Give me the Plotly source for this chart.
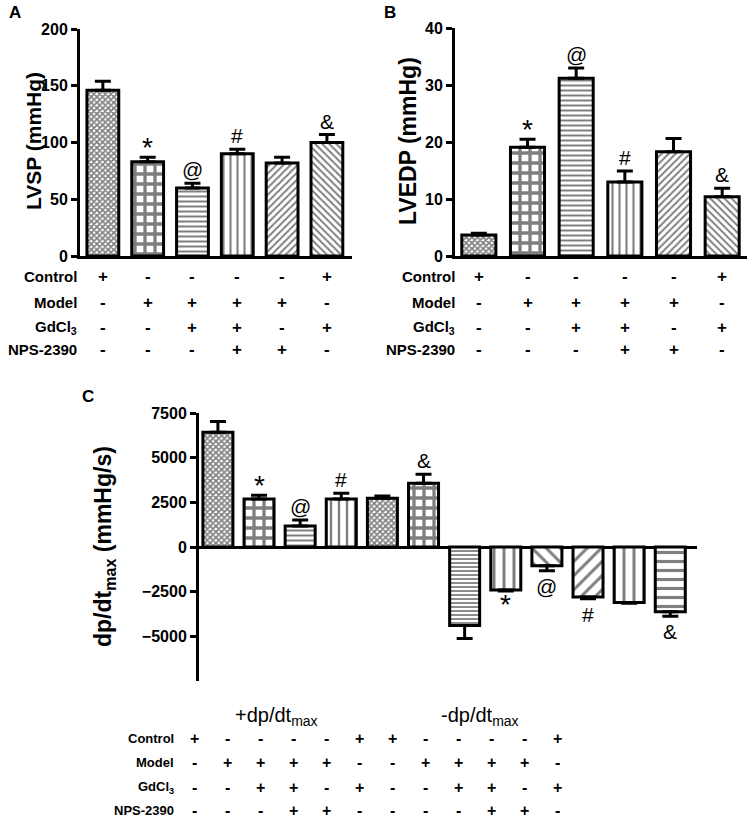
import plotly.graph_objects as go

# ---------------- data ----------------
groups = ["Control", "Model", "Model+GdCl3", "Model+GdCl3+NPS-2390", "Model+NPS-2390", "Control+GdCl3"]

lvsp_mean = [146, 83, 60, 90, 82, 100]
lvsp_sem = [8, 4, 4, 4, 5, 7]
lvsp_sig = ["", "*", "@", "#", "", "&"]

lvedp_mean = [3.7, 19.1, 31.2, 13.0, 18.3, 10.4]
lvedp_sem = [0.3, 1.4, 1.8, 1.9, 2.3, 1.5]
lvedp_sig = ["", "*", "@", "#", "", "&"]

dpdt_groups = [g + " (+dp/dt)" for g in groups] + [g + " (-dp/dt)" for g in groups]
dpdt_mean = [6420, 2680, 1170, 2680, 2730, 3570, -4400, -2400, -1050, -2800, -3100, -3620]
dpdt_sem = [610, 220, 340, 330, 120, 500, 720, 60, 280, 90, 50, 250]
dpdt_sig = ["", "*", "@", "#", "", "&", "", "*", "@", "#", "", "&"]

row_names = ["Control", "Model", "GdCl<sub>3</sub>", "NPS-2390"]
table_ab = [
    ["+", "-", "-", "-", "-", "+"],
    ["-", "+", "+", "+", "+", "-"],
    ["-", "-", "+", "+", "-", "+"],
    ["-", "-", "-", "+", "+", "-"],
]
table_c = [
    ["+", "-", "-", "-", "-", "+", "+", "-", "-", "-", "-", "+"],
    ["-", "+", "+", "+", "+", "-", "-", "+", "+", "+", "+", "-"],
    ["-", "-", "+", "+", "-", "+", "-", "-", "+", "+", "-", "+"],
    ["-", "-", "-", "+", "+", "-", "-", "-", "-", "+", "+", "-"],
]
group_titles_c = ["+dp/dt<sub>max</sub>", "-dp/dt<sub>max</sub>"]

# ---------------- styles ----------------
W, H = 755, 821
FONT = "Liberation Sans, Arial, sans-serif"

def px_x(p):
    return p / W

def px_y(p):
    return 1 - p / H

pat_ab = [
    dict(shape="x", size=4, solidity=0.65),
    dict(shape="+", size=10, solidity=0.55),
    dict(shape="-", size=5, solidity=0.4),
    dict(shape="|", size=7, solidity=0.3),
    dict(shape="/", size=5, solidity=0.4),
    dict(shape="\\", size=5, solidity=0.4),
]
pat_c = [
    dict(shape="x", size=4, solidity=0.65),
    dict(shape="+", size=10, solidity=0.55),
    dict(shape="-", size=5, solidity=0.4),
    dict(shape="|", size=8, solidity=0.3),
    dict(shape="x", size=4, solidity=0.65),
    dict(shape="+", size=10, solidity=0.55),
    dict(shape="-", size=4, solidity=0.45),
    dict(shape="|", size=10, solidity=0.3),
    dict(shape="\\", size=10, solidity=0.3),
    dict(shape="/", size=10, solidity=0.3),
    dict(shape="|", size=10, solidity=0.3),
    dict(shape="-", size=9, solidity=0.35),
]

def patt(p):
    d = dict(p)
    d.update(fgcolor="black", bgcolor="white", fillmode="overlay")
    return d

fig = go.Figure()

def add_bars(xax, yax, means, sems, pats, width, capw):
    for i, (m, s) in enumerate(zip(means, sems)):
        pos = m >= 0
        fig.add_trace(go.Bar(
            x=[i], y=[m], width=width, xaxis=xax, yaxis=yax,
            marker=dict(color="white", pattern=patt(pats[i]),
                        line=dict(color="black", width=3)),
            error_y=dict(type="data", symmetric=False,
                         array=[s if pos else 0], arrayminus=[0 if pos else s],
                         color="black", thickness=3, width=capw),
            showlegend=False, hoverinfo="skip",
        ))

add_bars("x", "y", lvsp_mean, lvsp_sem, pat_ab, 0.71, 8)
add_bars("x2", "y2", lvedp_mean, lvedp_sem, pat_ab, 0.70, 8)
add_bars("x3", "y3", dpdt_mean, dpdt_sem, pat_c, 0.73, 8)

ann = []
# significance marks
def add_sig(xref, yref, means, sems, sigs):
    for i, (m, s, t) in enumerate(zip(means, sems, sigs)):
        if not t:
            continue
        pos = m >= 0
        star = t == "*"
        if pos:
            ys = -8 if star else 0
        else:
            ys = 4 if star else -2
        ann.append(dict(x=i, y=m + s if pos else m - s, xref=xref, yref=yref,
                        text=t, showarrow=False, xanchor="center",
                        yanchor="bottom" if pos else "top", yshift=ys,
                        font=dict(family=FONT, size=28 if star else 21, color="black")))

add_sig("x", "y", lvsp_mean, lvsp_sem, lvsp_sig)
add_sig("x2", "y2", lvedp_mean, lvedp_sem, lvedp_sig)
add_sig("x3", "y3", dpdt_mean, dpdt_sem, dpdt_sig)

# tables A and B (columns on the bar positions)
row_y_ab = [277, 302, 327, 350]
for xref, label_right in (("x", 79), ("x2", 457)):
    for r, name in enumerate(row_names):
        ann.append(dict(x=px_x(label_right), y=px_y(row_y_ab[r]), xref="paper", yref="paper",
                        text="<b>" + name + "</b>", showarrow=False, xanchor="right",
                        yanchor="middle", font=dict(family=FONT, size=15, color="black")))
        for c, sgn in enumerate(table_ab[r]):
            ann.append(dict(x=c, y=px_y(row_y_ab[r]), xref=xref, yref="paper",
                            text="<b>" + sgn + "</b>", showarrow=False, xanchor="center",
                            yanchor="middle", font=dict(family=FONT, size=17, color="black")))

# table C
row_y_c = [738, 762, 787, 810]
col0_c, step_c = 194, 33.0
for r, name in enumerate(row_names):
    ann.append(dict(x=px_x(176), y=px_y(row_y_c[r]), xref="paper", yref="paper",
                    text="<b>" + name + "</b>", showarrow=False, xanchor="right",
                    yanchor="middle", font=dict(family=FONT, size=13, color="black")))
    for c, sgn in enumerate(table_c[r]):
        ann.append(dict(x=px_x(col0_c + step_c * c), y=px_y(row_y_c[r]), xref="paper", yref="paper",
                        text="<b>" + sgn + "</b>", showarrow=False, xanchor="center",
                        yanchor="middle", font=dict(family=FONT, size=16, color="black")))
for k, t in enumerate(group_titles_c):
    ann.append(dict(x=px_x([276, 480][k]), y=px_y(716), xref="paper", yref="paper",
                    text=t, showarrow=False, xanchor="center", yanchor="middle",
                    font=dict(family=FONT, size=20, color="black")))

# axis titles
for txt, xx, yy, sz in (("<b>LVSP (mmHg)</b>", 33, 141, 21),
                        ("<b>LVEDP (mmHg)</b>", 408, 141, 23),
                        ("<b>dp/dt<sub>max</sub> (mmHg/s)</b>", 104, 547, 23)):
    ann.append(dict(x=px_x(xx), y=px_y(yy), xref="paper", yref="paper", text=txt,
                    textangle=-90, showarrow=False, xanchor="center", yanchor="middle",
                    font=dict(family=FONT, size=sz, color="black")))

# panel letters
for t, xx, yy in (("A", 15, 13), ("B", 390, 13), ("C", 88, 396)):
    ann.append(dict(x=px_x(xx), y=px_y(yy), xref="paper", yref="paper", text="<b>" + t + "</b>",
                    showarrow=False, xanchor="center", yanchor="middle",
                    font=dict(family=FONT, size=17, color="black")))

yax_common = dict(showline=True, linecolor="black", linewidth=3, ticks="outside",
                  ticklen=6, tickwidth=3, tickcolor="black", showgrid=False, zeroline=False,
                  automargin=False,
                  tickfont=dict(family=FONT, size=16, color="black", weight="bold"))
xax_common = dict(showgrid=False, zeroline=False, showticklabels=False, ticks="", automargin=False)

fig.update_layout(
    width=W, height=H, margin=dict(l=0, r=0, t=0, b=0, pad=0, autoexpand=False),
    paper_bgcolor="white", plot_bgcolor="white",
    barmode="overlay", annotations=ann,
    xaxis=dict(domain=[px_x(80), px_x(352)], range=[-0.51, 5.56], anchor="y",
               showline=True, linecolor="black", linewidth=3, **xax_common),
    yaxis=dict(domain=[px_y(256), px_y(29)], range=[0, 200], tickvals=[0, 50, 100, 150, 200],
               anchor="x", **yax_common),
    xaxis2=dict(domain=[px_x(455), px_x(747)], range=[-0.49, 5.51], anchor="y2",
                showline=True, linecolor="black", linewidth=3, **xax_common),
    yaxis2=dict(domain=[px_y(256), px_y(28)], range=[0, 40], tickvals=[0, 10, 20, 30, 40],
                anchor="x2", **yax_common),
    xaxis3=dict(domain=[px_x(199), px_x(697)], range=[-0.46, 11.65], anchor="y3",
                showline=False, **xax_common),
    yaxis3=dict(domain=[px_y(681), px_y(413)], range=[-7500, 7500],
                tickvals=[-5000, -2500, 0, 2500, 5000, 7500], anchor="x3",
                **{**yax_common, "zeroline": True, "zerolinecolor": "black", "zerolinewidth": 3}),
)

fig.write_html("out.html", config={"displayModeBar": False},
               post_script="document.body.style.margin='0';document.body.style.overflow='hidden';")
